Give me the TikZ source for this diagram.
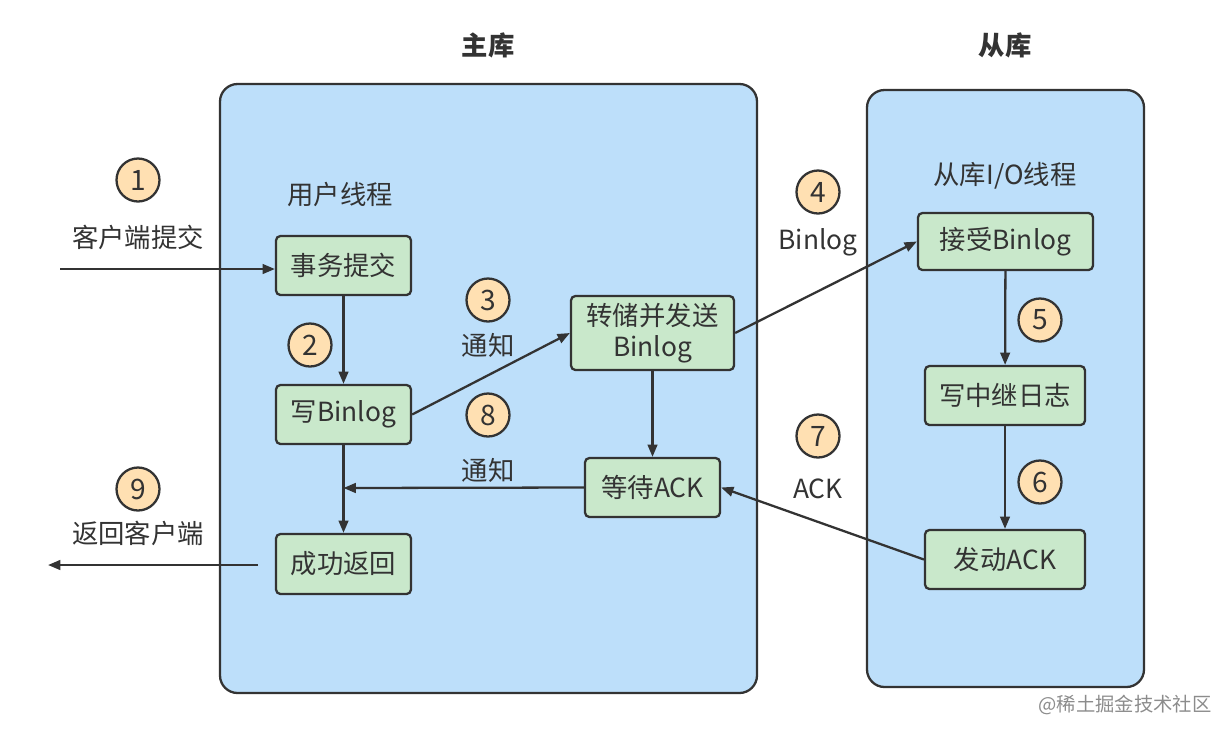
\documentclass[tikz,border=0pt]{standalone}
\usepackage{fontspec}
\setmainfont{Noto Sans CJK SC}
\usetikzlibrary{arrows.meta}
\definecolor{panelblue}{RGB}{189,223,250}
\definecolor{boxgreen}{RGB}{201,232,203}
\definecolor{numorange}{RGB}{255,224,178}
\definecolor{ink}{RGB}{51,51,51}
\tikzset{
  panel/.style={draw=ink, line width=1.3pt, fill=panelblue, rounded corners=10pt},
  stepbox/.style={draw=ink, line width=1.3pt, fill=boxgreen, rounded corners=2.5pt, align=center, font=\fontsize{15}{18}\selectfont, text=ink, inner sep=0pt},
  num/.style={circle, draw=ink, line width=1.3pt, fill=numorange, minimum size=0.86cm, inner sep=0pt, font=\fontsize{16}{18}\selectfont, text=ink},
  lbl/.style={font=\fontsize{15}{18}\selectfont, text=ink, inner sep=0pt},
  ttl/.style={font=\fontsize{15}{18}\selectfont\bfseries, text=ink, inner sep=0pt},
  conn/.style={draw=ink, line width=1.3pt, -{Triangle[length=7pt,width=5.5pt]}},
}
\begin{document}
\begin{tikzpicture}[x=0.02cm, y=-0.02cm]
\useasboundingbox (0,0) rectangle (1227,735);
% panels
\draw[panel] (220,84) rectangle (757,693);
\draw[panel] (867,90) rectangle (1144,687);
% titles
\node[ttl] (tmain) at (488,45) {主库};
\node[ttl] (tslave) at (1005,45) {从库};
\node[lbl] (uthread) at (340,194) {用户线程};
\node[lbl] (iothread) at (1005,176) {从库I/O线程};
% boxes
\node[stepbox, minimum width=2.7cm, minimum height=1.18cm] (commit) at (343.5,265.5) {事务提交};
\node[stepbox, minimum width=2.7cm, minimum height=1.18cm] (wbin) at (343.5,414.5) {写Binlog};
\node[stepbox, minimum width=2.7cm, minimum height=1.2cm] (ret) at (343.5,564) {成功返回};
\node[stepbox, minimum width=3.26cm, minimum height=1.48cm] (dump) at (652.5,333) {转储并发送\\Binlog};
\node[stepbox, minimum width=2.7cm, minimum height=1.18cm] (wack) at (652.5,487.5) {等待ACK};
\node[stepbox, minimum width=3.5cm, minimum height=1.14cm] (recv) at (1005.5,241.5) {接受Binlog};
\node[stepbox, minimum width=3.2cm, minimum height=1.18cm] (relay) at (1005,395.5) {写中继日志};
\node[stepbox, minimum width=3.2cm, minimum height=1.18cm] (sack) at (1005,559.5) {发动ACK};
% numbers
\node[num] (n1) at (138,180) {1};
\node[num] (n2) at (310,345) {2};
\node[num] (n3) at (488,300) {3};
\node[num] (n8) at (488,415) {8};
\node[num] (n4) at (818,192) {4};
\node[num] (n5) at (1040,320) {5};
\node[num] (n6) at (1040,482) {6};
\node[num] (n7) at (818,436) {7};
\node[num] (n9) at (138,489) {9};
% labels
\node[lbl] (l1) at (138,237) {客户端提交};
\node[lbl] (l3) at (488,345) {通知};
\node[lbl] (l8) at (488,470) {通知};
\node[lbl] (l4) at (818,242) {Binlog};
\node[lbl] (l7) at (818,489) {ACK};
\node[lbl] (l9) at (138,533) {返回客户端};
% coordinates
\coordinate (cin) at (60,269);
\coordinate (join) at (343.5,488);
\coordinate (rstart) at (258,565);
\coordinate (rend) at (48,565);
% connectors
\draw[conn] (cin) -- (commit.west |- cin);
\draw[conn] (commit) -- (wbin);
\draw[conn] (wbin.east) -- (dump.west);
\draw[conn] (dump) -- (wack);
\draw[conn] (wack.west) -- (join);
\draw[conn] (wbin) -- (ret);
\draw[conn] (rstart) -- (rend);
\draw[conn] (dump.east) -- (recv.west);
\draw[conn] (recv) -- (relay);
\draw[conn] (relay) -- (sack);
\draw[conn] (sack.west) -- (wack.east);
% watermark
\node[font=\fontsize{11}{13}\selectfont, text=black!45, inner sep=0pt] (wm) at (1125,705) {@稀土掘金技术社区};
\end{tikzpicture}
\end{document}
